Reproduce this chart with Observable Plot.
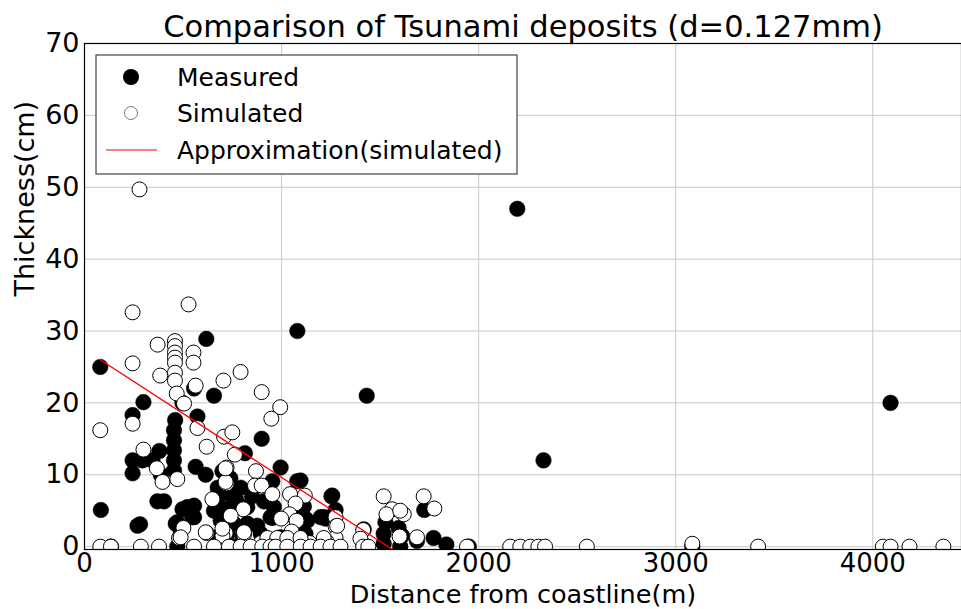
<!DOCTYPE html>
<html>
<head>
<meta charset="utf-8">
<script src="https://cdn.jsdelivr.net/npm/d3@7"></script>
<script src="https://cdn.jsdelivr.net/npm/@observablehq/plot@0.6"></script>
<style>
  html, body { margin: 0; padding: 0; background: #fff; }
  #chart { width: 961px; height: 609px; }
</style>
</head>
<body>
<div id="chart"></div>
<script>
const title = "Comparison of Tsunami deposits (d=0.127mm)";
const xLabel = "Distance from coastline(m)";
const yLabel = "Thickness(cm)";
const seriesNames = ["Measured", "Simulated", "Approximation(simulated)"];
const xTicks = [0, 1000, 2000, 3000, 4000];
const yTicks = [0, 10, 20, 30, 40, 50, 60, 70];

// Measured deposits [distance (m), thickness (cm)]
const measured = [
  [80,25],[618,28.9],[1080,30],[1432,21],[2196,47],[2329,12],[4090,20],
  [244,18.3],[299,20.1],[497,20],[556,22],[657,21],[573,18.1],[460,17.6],[454,16.2],[454,14.8],[454,13.4],[454,12],[454,10.6],
  [244,12],[294,12],[345,12],[380,13.3],[244,10.2],[387,10],[564,11.1],[615,10],[899,15],[814,13],[995,11],[1079,9.1],[953,9.1],
  [700,10.5],[740,9.5],[770,6.5],[850,7],[910,6.3],
  [83,5.1],[370,6.3],[404,6.3],[497,5.2],[556,5.7],[547,4.1],[463,3.2],[282,3.1],[269,2.9],[691,7.8],[725,5],[708,2.7],[674,1.3],
  [657,5],[676,8.2],[723,7.5],[792,8.2],[674,6.4],[742,5.5],[826,5.5],[691,3.6],[758,3.2],[826,3.2],[877,2.9],[725,1.8],[801,1.5],
  [894,1.8],[944,4.1],[961,5.5],[1096,5],[1130,3.6],[1062,2.2],[1096,1.3],[995,1.3],[1198,4.1],[522,5.5],[556,4.1],[471,3.4],[488,2.2],
  [1253,7],[1274,5.1],[1223,3.9],[953,4],[1113,5.6],[1121,3.9],[1096,2.1],[1417,2.4],[1724,5.1],[1771,1.2],[1836,0.3],
  [1527,3.4],[1518,1.8],[1594,2.6],[1611,1.5],[1518,0.4],[1602,0],[1687,0.8],[1257,7.1],[1214,4.1],[1121,1.8],[1096,9.2],
  [134,0],[471,0],[757,0],[1000,0],[1280,0],[1950,0],[3084,0]
];

// Simulated deposits [distance (m), thickness (cm)]
const simulated = [
  [279,49.7],[244,32.6],[528,33.7],[371,28.1],[459,28.6],[459,27.9],[459,27],[459,26.3],[459,25.6],[459,24.2],[459,23.1],
  [553,27],[553,25.6],[244,25.5],[384,23.8],[468,21.3],[564,22.4],[705,23.1],[505,19.9],[80,16.2],[244,17.1],[792,24.3],
  [899,21.5],[993,19.4],[948,17.8],[573,16.5],[620,13.9],[708,15.3],[750,15.9],[763,12.8],[299,13.5],[367,10.9],[396,9],
  [471,9.4],[721,11],[870,10.5],[865,8.5],[899,8.5],[953,7.3],[1043,7.3],[1118,7.1],[1071,6],[1040,4.5],[1076,3.6],[998,3.9],
  [1051,2.1],[649,6.6],[721,8.8],[806,5.2],[742,4.3],[809,1.7],[620,1.9],[502,2.6],[480,1.2],[1274,4.1],[1274,2.8],[1274,1.2],
  [1228,0.7],[1143,0.5],[894,0.5],[1414,2.3],[1414,0.3],[1518,7],[1561,5.2],[1532,4.5],[1620,4.5],[1602,5],[1599,1.4],
  [1687,1.3],[1721,7],[1775,5.3],[716,9],[716,10.9],[716,1.9],[488,1.3],[615,2],[700,1.5],[700,2.5],[809,2],[928,1.2],
  [978,1.2],[1029,1.2],[1096,1.2],[1214,1.2],[1282,2.9],[1400,1.1],
  [80,0],[134,0],[286,0],[378,0],[556,0],[657,0],[733,0],[792,0],[843,0],[902,0],[944,0],[970,0],[1029,0],[1097,0],
  [1147,0],[1198,0],[1248,0],[1299,0],[1414,0],[1440,0],[1941,0],[2160,0],[2211,0],[2262,0],[2303,0],[2337,0],[2549,0],
  [3084,0.4],[3418,0],[4051,0],[4090,0],[4186,0],[4358,0]
];

// Linear approximation of simulated values [distance (m), thickness (cm)]
const approximation = [[80, 26], [1563, -0.4]];

const FONT = "DejaVu Sans, Liberation Sans, sans-serif";

const plot = Plot.plot({
  width: 961,
  height: 609,
  marginLeft: 84,
  marginRight: 0,
  marginTop: 43,
  marginBottom: 60,
  style: { fontFamily: FONT, fontSize: "27px", background: "#fff", color: "#000", overflow: "visible" },
  x: { domain: [0, 4450], label: null },
  y: { domain: [-0.4, 70], label: null },
  marks: [
    Plot.gridX(xTicks, { stroke: "#c8c8c8", strokeOpacity: 1, strokeWidth: 1 }),
    Plot.gridY(yTicks, { stroke: "#c8c8c8", strokeOpacity: 1, strokeWidth: 1 }),
    Plot.dot(measured, { x: d => d[0], y: d => d[1], r: 7.8, fill: "#000", stroke: "#000", strokeWidth: 0.5, clip: true }),
    Plot.dot(simulated, { x: d => d[0], y: d => d[1], r: 7.5, fill: "#fff", stroke: "#000", strokeWidth: 1, clip: true }),
    Plot.line(approximation, { x: d => d[0], y: d => d[1], stroke: "#ff0000", strokeWidth: 1.3, clip: true }),
    Plot.frame({ stroke: "#000", strokeWidth: 1.2 }),
    Plot.axisX(xTicks, { tickSize: 0, tickPadding: 4, tickFormat: d => String(d), fontSize: 26, label: null }),
    Plot.axisY(yTicks, { tickSize: 0, tickPadding: 5, tickFormat: d => String(d), fontSize: 27, label: null }),
    Plot.text([title], { frameAnchor: "top", lineAnchor: "middle", dy: -16, fontSize: 30.5, text: d => d }),
    Plot.text([xLabel], { frameAnchor: "bottom", lineAnchor: "middle", dy: 45, fontSize: 25.5, text: d => d }),
    Plot.text([yLabel], { frameAnchor: "left", lineAnchor: "middle", dx: -59, rotate: -90, fontSize: 27, text: d => d })
  ]
});

document.getElementById("chart").appendChild(plot);

// Legend drawn into the SVG
const svg = d3.select(plot);
const lg = svg.append("g").attr("font-family", FONT).attr("font-size", 25).attr("text-anchor", "start");
lg.append("rect").attr("x", 96).attr("y", 55).attr("width", 421).attr("height", 119)
  .attr("fill", "#fff").attr("stroke", "#444").attr("stroke-width", 1.2);
const rows = [77, 113, 150];
lg.append("circle").attr("cx", 131).attr("cy", rows[0]).attr("r", 8).attr("fill", "#000");
lg.append("circle").attr("cx", 131).attr("cy", rows[1]).attr("r", 6.5).attr("fill", "#fff").attr("stroke", "#777").attr("stroke-width", 1);
lg.append("line").attr("x1", 106).attr("x2", 157).attr("y1", rows[2]).attr("y2", rows[2]).attr("stroke", "#ff0000").attr("stroke-width", 1.2);
seriesNames.forEach((name, i) => {
  lg.append("text").attr("x", 177).attr("y", rows[i]).attr("dy", "0.35em").attr("text-anchor", "start").attr("fill", "#000").text(name);
});
</script>
</body>
</html>
